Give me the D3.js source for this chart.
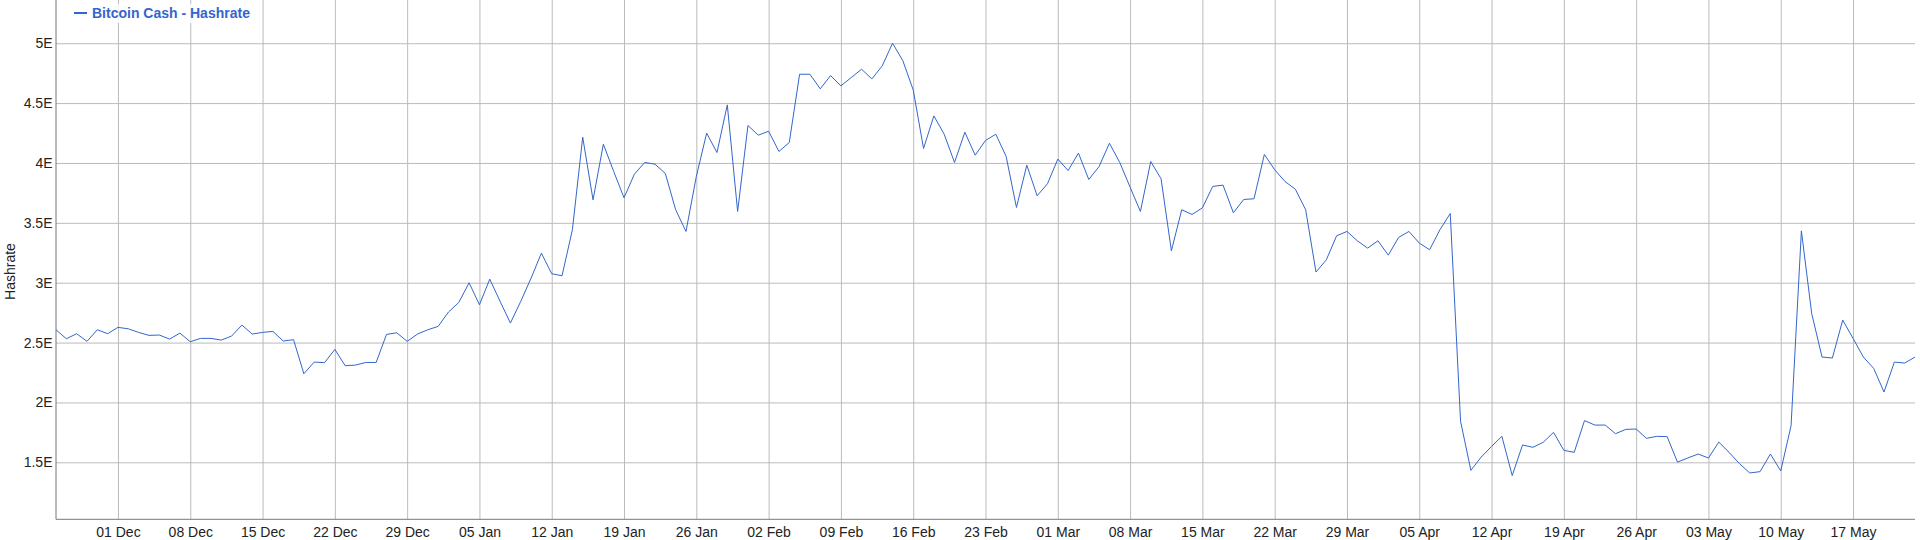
<!DOCTYPE html>
<html>
<head>
<meta charset="utf-8">
<script src="https://cdn.jsdelivr.net/npm/d3@7"></script>
<style>
  body { margin: 0; background: #fff; }
  svg { display: block; font-family: "Liberation Sans", Arial, sans-serif; }
</style>
</head>
<body>
<svg id="chart"></svg>
<script>
// daily hashrate (EH/s), one array per month, 25 Nov 2019 .. 23 May 2020
var startDate = "2019-11-25";
var novValues = [2.607, 2.532, 2.574, 2.510, 2.607, 2.574];
var decValues = [2.627, 2.615, 2.585, 2.560, 2.563, 2.529, 2.579, 2.507, 2.535, 2.535,
                 2.521, 2.554, 2.646, 2.571, 2.585, 2.593, 2.513, 2.524, 2.240, 2.337,
                 2.332, 2.443, 2.307, 2.312, 2.334, 2.334, 2.568, 2.582, 2.510, 2.571, 2.607];
var janValues = [2.635, 2.755, 2.835, 2.999, 2.816, 3.030, 2.844, 2.663, 2.844, 3.038,
                 3.247, 3.075, 3.058, 3.442, 4.215, 3.692, 4.157, 3.929, 3.709, 3.906,
                 4.004, 3.990, 3.912, 3.609, 3.428, 3.887, 4.249, 4.087, 4.485, 3.595, 4.313];
var febValues = [4.232, 4.265, 4.096, 4.171, 4.741, 4.741, 4.619, 4.730, 4.644, 4.713,
                 4.783, 4.702, 4.811, 5.000, 4.853, 4.610, 4.121, 4.393, 4.240, 4.004,
                 4.257, 4.065, 4.188, 4.240, 4.054, 3.628, 3.982, 3.726, 3.826];
var marValues = [4.032, 3.937, 4.082, 3.862, 3.970, 4.165, 4.004, 3.798, 3.595, 4.012,
                 3.868, 3.267, 3.609, 3.570, 3.625, 3.804, 3.815, 3.584, 3.695, 3.701,
                 4.071, 3.943, 3.845, 3.781, 3.609, 3.089, 3.191, 3.392, 3.428, 3.350, 3.289];
var aprValues = [3.350, 3.230, 3.378, 3.428, 3.331, 3.275, 3.442, 3.578, 1.842, 1.433,
                 1.544, 1.633, 1.717, 1.389, 1.645, 1.625, 1.667, 1.750, 1.600, 1.583,
                 1.848, 1.811, 1.811, 1.739, 1.775, 1.778, 1.700, 1.717, 1.714, 1.502];
var mayValues = [1.536, 1.569, 1.536, 1.669, 1.583, 1.489, 1.411, 1.422, 1.569, 1.428,
                 1.806, 3.433, 2.741, 2.379, 2.371, 2.688, 2.535, 2.379, 2.284, 2.087,
                 2.337, 2.329, 2.379];
var yTicks = [1.5, 2, 2.5, 3, 3.5, 4, 4.5, 5];
var seriesName = "Bitcoin Cash - Hashrate";
var yTitle = "Hashrate";

function parseData() {
  var values = [].concat(novValues, decValues, janValues, febValues, marValues, aprValues, mayValues);
  var start = d3.utcParse("%Y-%m-%d")(startDate);
  return values.map(function(v, i) {
    return { date: d3.utcDay.offset(start, i), value: v };
  });
}

function drawChart(data) {
  var svgWidth = 1920, svgHeight = 540;
  var left = 56, right = 1915, top = 0, bottom = 519.3;

  var svg = d3.select("#chart")
    .attr("width", svgWidth)
    .attr("height", svgHeight);

  var x = d3.scaleUtc()
    .domain(d3.extent(data, function(d) { return d.date; }))
    .range([left, right]);

  var y = d3.scaleLinear()
    .domain([1.024, 5.361])
    .range([bottom, top]);

  var weeks = d3.utcWeek.range(x.domain()[0], d3.utcDay.offset(x.domain()[1], 1));

  // vertical grid
  svg.append("g")
    .attr("transform", "translate(0," + bottom + ")")
    .call(d3.axisBottom(x).tickValues(weeks).tickSize(-(bottom - top)).tickFormat(""))
    .call(function(g) { g.select(".domain").remove(); })
    .selectAll("line")
    .attr("stroke", "#bbb");

  // horizontal grid
  svg.append("g")
    .attr("transform", "translate(" + left + ",0)")
    .call(d3.axisLeft(y).tickValues(yTicks).tickSize(-(right - left)).tickFormat(""))
    .call(function(g) { g.select(".domain").remove(); })
    .selectAll("line")
    .attr("stroke", "#bbb");

  // x labels
  var xAxis = svg.append("g")
    .attr("transform", "translate(0," + bottom + ")")
    .call(d3.axisBottom(x).tickValues(weeks).tickSize(0).tickPadding(8)
      .tickFormat(d3.utcFormat("%d %b")));
  xAxis.select(".domain").remove();
  xAxis.selectAll("text")
    .attr("font-size", 14)
    .attr("font-family", "Liberation Sans, Arial, sans-serif")
    .attr("fill", "#222");

  // y labels
  var yAxis = svg.append("g")
    .attr("transform", "translate(" + left + ",0)")
    .call(d3.axisLeft(y).tickValues(yTicks).tickSize(0).tickPadding(3.5)
      .tickFormat(function(d) { return d + "E"; }));
  yAxis.select(".domain").remove();
  yAxis.selectAll("text")
    .attr("font-size", 14)
    .attr("font-family", "Liberation Sans, Arial, sans-serif")
    .attr("fill", "#222");

  // axis lines
  svg.append("line")
    .attr("x1", left).attr("x2", left)
    .attr("y1", top).attr("y2", bottom)
    .attr("stroke", "#777");
  svg.append("line")
    .attr("x1", left).attr("x2", right)
    .attr("y1", bottom).attr("y2", bottom)
    .attr("stroke", "#777");

  svg.append("text")
    .attr("transform", "translate(15," + 271.5 + ") rotate(-90)")
    .attr("text-anchor", "middle")
    .attr("font-size", 14)
    .attr("fill", "#222")
    .text(yTitle);

  var line = d3.line()
    .x(function(d) { return x(d.date); })
    .y(function(d) { return y(d.value); });

  svg.append("path")
    .datum(data)
    .attr("fill", "none")
    .attr("stroke", "#3366cc")
    .attr("stroke-width", 1)
    .attr("stroke-linejoin", "round")
    .attr("d", line);

  // legend
  var legend = svg.append("g");
  legend.append("rect")
    .attr("x", 90).attr("y", 4)
    .attr("width", 168).attr("height", 19)
    .attr("fill", "#fff")
    .attr("opacity", 0.8);
  legend.append("line")
    .attr("x1", 74).attr("x2", 87)
    .attr("y1", 13).attr("y2", 13)
    .attr("stroke", "#3366cc")
    .attr("stroke-width", 2);
  legend.append("text")
    .attr("x", 92)
    .attr("y", 18.3)
    .attr("font-size", 14)
    .attr("font-weight", "bold")
    .attr("fill", "#3366cc")
    .text(seriesName);
}

drawChart(parseData());
</script>
</body>
</html>
